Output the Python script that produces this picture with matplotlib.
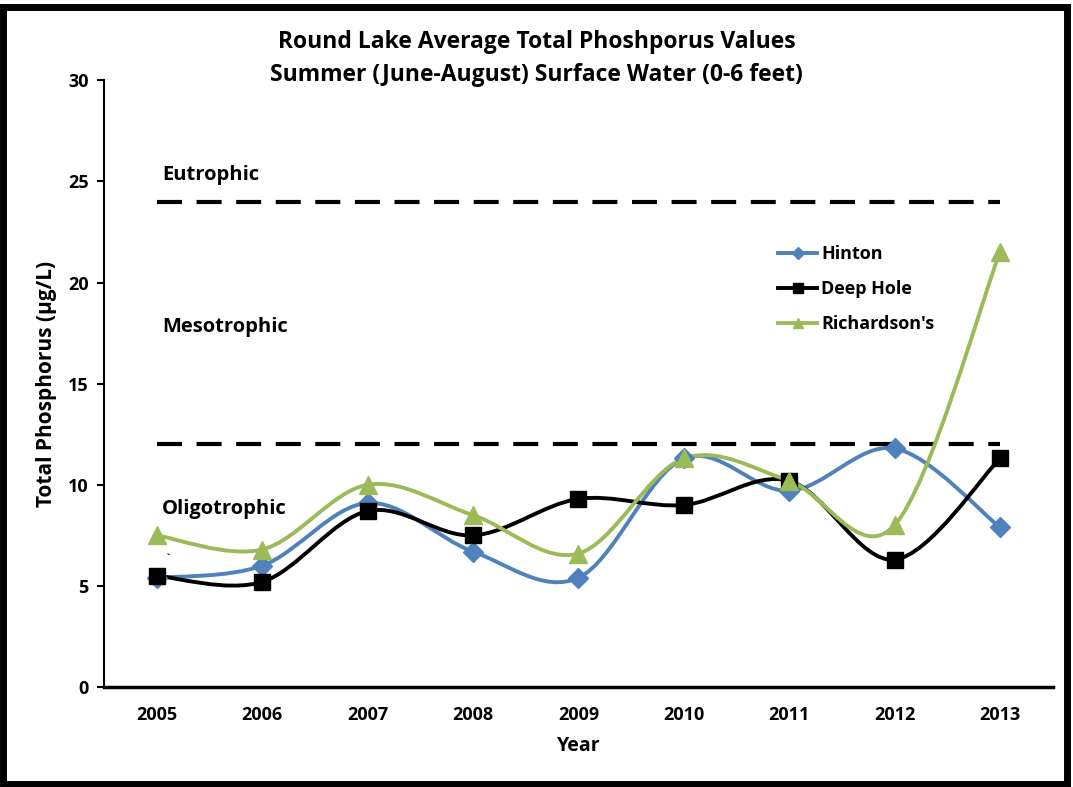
import numpy as np
import matplotlib
matplotlib.use('Agg')
import matplotlib.pyplot as plt
from matplotlib.path import Path
from matplotlib.patches import PathPatch, Rectangle
from matplotlib.lines import Line2D

plt.rcParams['font.family'] = ['Open Sans', 'DejaVu Sans']
plt.rcParams['font.weight'] = 'bold'

years = ['2005', '2006', '2007', '2008', '2009', '2010', '2011', '2012', '2013']
hinton = [5.4, 6.0, 9.1, 6.7, 5.4, 11.3, 9.7, 11.8, 7.9]
deep_hole = [5.5, 5.2, 8.7, 7.5, 9.3, 9.0, 10.2, 6.3, 11.3]
richardsons = [7.5, 6.8, 10.0, 8.5, 6.6, 11.3, 10.2, 8.0, 21.5]
eutrophic = 24
oligotrophic = 12


def smooth_path(x, y):
    # excel-ish smoothed line: catmull-rom -> cubic bezier
    p = np.column_stack([x, y]).astype(float)
    n = len(p)
    verts = [p[0]]
    codes = [Path.MOVETO]
    for i in range(n - 1):
        p0 = p[i - 1] if i > 0 else p[i]
        p3 = p[i + 2] if i + 2 < n else p[i + 1]
        c1 = p[i] + (p[i + 1] - p0) / 6
        c2 = p[i + 1] - (p3 - p[i]) / 6
        verts += [c1, c2, p[i + 1]]
        codes += [Path.CURVE4] * 3
    return Path(verts, codes)


fig = plt.figure(figsize=(10.73, 7.87), dpi=100)
ax = fig.add_axes([0.097, 0.127, 0.884, 0.771])

x = np.arange(len(years))
series = [
    ('Hinton', hinton, '#4F81BD', 'D', 10),
    ('Deep Hole', deep_hole, 'black', 's', 11),
    ("Richardson's", richardsons, '#9BBB59', '^', 13),
]

ax.plot(x, [eutrophic] * len(x), color='black', lw=3, ls=(0, (6, 3.5)))
ax.plot(x, [oligotrophic] * len(x), color='black', lw=3, ls=(0, (6, 3.5)))

handles = []
for name, vals, col, mk, ms in series:
    ax.add_patch(PathPatch(smooth_path(x, vals), fill=False, edgecolor=col,
                           lw=2.8, zorder=3))
    ax.plot(x, vals, ls='none', marker=mk, ms=ms, color=col, zorder=4)
    handles.append(Line2D([], [], color=col, lw=2.8, marker=mk, ms=ms * 0.6))

ax.text(0.05, 25.3, 'Eutrophic', fontsize=14.5, fontweight='bold', va='center')
ax.text(0.05, 17.8, 'Mesotrophic', fontsize=14.5, fontweight='bold', va='center')
ax.text(0.05, 8.8, 'Oligotrophic', fontsize=14.5, fontweight='bold', va='center')
ax.text(0.07, 6.3, '`', fontsize=8, va='center')

ax.set_xlim(-0.5, len(x) - 0.5)
ax.set_ylim(0, 30)
ax.set_yticks([0, 5, 10, 15, 20, 25, 30])
ax.set_xticks(x)
ax.set_xticklabels(years)
ax.tick_params(axis='x', length=0, pad=14, labelsize=13)
ax.tick_params(axis='y', length=5, width=1.5, pad=6, labelsize=13)
for lab in ax.get_xticklabels() + ax.get_yticklabels():
    lab.set_fontweight('bold')

ax.spines['top'].set_visible(False)
ax.spines['right'].set_visible(False)
ax.spines['left'].set_linewidth(1.5)
ax.spines['bottom'].set_linewidth(2.5)

ax.set_xlabel('Year', fontsize=14, fontweight='bold', labelpad=8)
ax.set_ylabel('Total Phosphorus (µg/L)', fontsize=15, fontweight='bold', labelpad=8)

ax.legend(handles, [s[0] for s in series], loc='upper left',
          bbox_to_anchor=(0.693, 0.755), frameon=False,
          handlelength=2.2, handletextpad=0.2, labelspacing=0.95,
          prop={'weight': 'bold', 'size': 13})

fig.text(0.5, 0.947, 'Round Lake Average Total Phoshporus Values',
         ha='center', va='center', fontsize=16.5, fontweight='bold')
fig.text(0.5, 0.905, 'Summer (June-August) Surface Water (0-6 feet)',
         ha='center', va='center', fontsize=16.5, fontweight='bold')

fig.patches.append(Rectangle((0.003, 0.004), 0.991, 0.987, transform=fig.transFigure,
                             fill=False, edgecolor='black', lw=5, figure=fig))

fig.savefig('out.png', dpi=100)
